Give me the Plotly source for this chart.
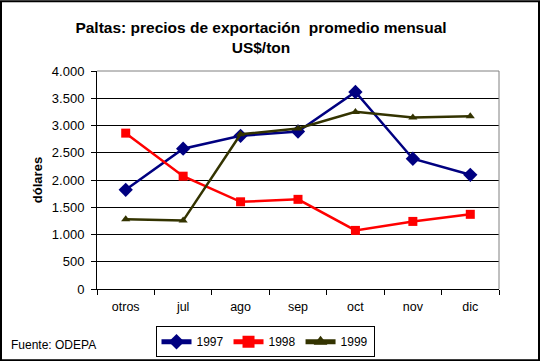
import plotly.graph_objects as go

categories = ["otros", "jul", "ago", "sep", "oct", "nov", "dic"]
v1997 = [1820, 2575, 2810, 2890, 3615, 2390, 2095]
v1998 = [2860, 2070, 1600, 1645, 1075, 1240, 1370]
v1999 = [1280, 1255, 2840, 2945, 3250, 3145, 3170]
ytickvals = [0, 500, 1000, 1500, 2000, 2500, 3000, 3500, 4000]

W, H = 540, 361
L, R, T, B = 97, 499, 70.7, 288.7

FONT = "Liberation Sans, Arial, sans-serif"

fig = go.Figure()
fig.add_trace(go.Scatter(x=categories, y=v1997, name="1997", mode="lines+markers",
                         line=dict(color="#000080", width=2.5),
                         marker=dict(symbol="diamond", size=11, color="#000080")))
fig.add_trace(go.Scatter(x=categories, y=v1998, name="1998", mode="lines+markers",
                         line=dict(color="#ff0000", width=2.5),
                         marker=dict(symbol="square", size=9, color="#ff0000")))
fig.add_trace(go.Scatter(x=categories, y=v1999, name="1999", mode="lines+markers",
                         line=dict(color="#333300", width=2.5),
                         marker=dict(symbol="triangle-up", size=8, color="#333300")))

def px(x):
    return (x - L) / (R - L)

def pyp(y):
    return (B - y) / (B - T)

fig.update_layout(
    width=W, height=H,
    margin=dict(l=L, r=W - R, t=T, b=H - B, pad=0, autoexpand=False),
    paper_bgcolor="white", plot_bgcolor="white",
    separators=",.",
    font=dict(family=FONT, size=12, color="black"),
    showlegend=True,
    legend=dict(orientation="h", x=px(265), y=pyp(341.5), xanchor="center", yanchor="middle",
                bordercolor="black", borderwidth=1, bgcolor="white",
                font=dict(family=FONT, size=12), itemwidth=30, tracegroupgap=0,
                itemsizing="constant"),
    title=dict(text="<b>Paltas: precios de exportación  promedio mensual<br>US$/ton</b>",
               x=261 / W, xanchor="center", y=1 - 33 / H, yanchor="middle",
               font=dict(family=FONT, size=15.5, color="black"), automargin=False),
    xaxis=dict(type="category", range=[-0.5, 6.5], showline=True, linecolor="black", linewidth=1,
               ticks="outside", ticklen=5, tickcolor="black", tickson="boundaries",
               showgrid=False, zeroline=False, tickfont=dict(size=12.5), fixedrange=True,
               automargin=False, ticklabelstandoff=6),
    yaxis=dict(range=[0, 4000], tickvals=ytickvals, tickformat=",d", showline=True,
               linecolor="black", linewidth=1, ticks="outside", ticklen=5, tickcolor="black",
               showgrid=True, gridcolor="black", gridwidth=1, zeroline=False,
               tickfont=dict(size=13), automargin=False, ticklabelstandoff=4,
               title=dict(text="<b>dólares</b>", font=dict(size=13), standoff=6)),
)

shapes = [
    dict(type="line", xref="paper", yref="paper", x0=0, x1=1, y0=1, y1=1,
         line=dict(color="#808080", width=1), layer="above"),
    dict(type="line", xref="paper", yref="paper", x0=1, x1=1, y0=0, y1=1,
         line=dict(color="#808080", width=1), layer="above"),
    dict(type="rect", xref="paper", yref="paper", x0=px(1), x1=px(539), y0=pyp(1), y1=pyp(360),
         line=dict(color="black", width=2), layer="above"),
]
fig.update_layout(shapes=shapes)

fig.add_annotation(text="Fuente: ODEPA", xref="paper", yref="paper", x=px(9), y=pyp(345),
                   xanchor="left", yanchor="middle", showarrow=False,
                   font=dict(family=FONT, size=12, color="black"))

fig.write_html("out.html", config={"displayModeBar": False},
               post_script="document.body.style.margin='0';document.body.style.overflow='hidden';")
